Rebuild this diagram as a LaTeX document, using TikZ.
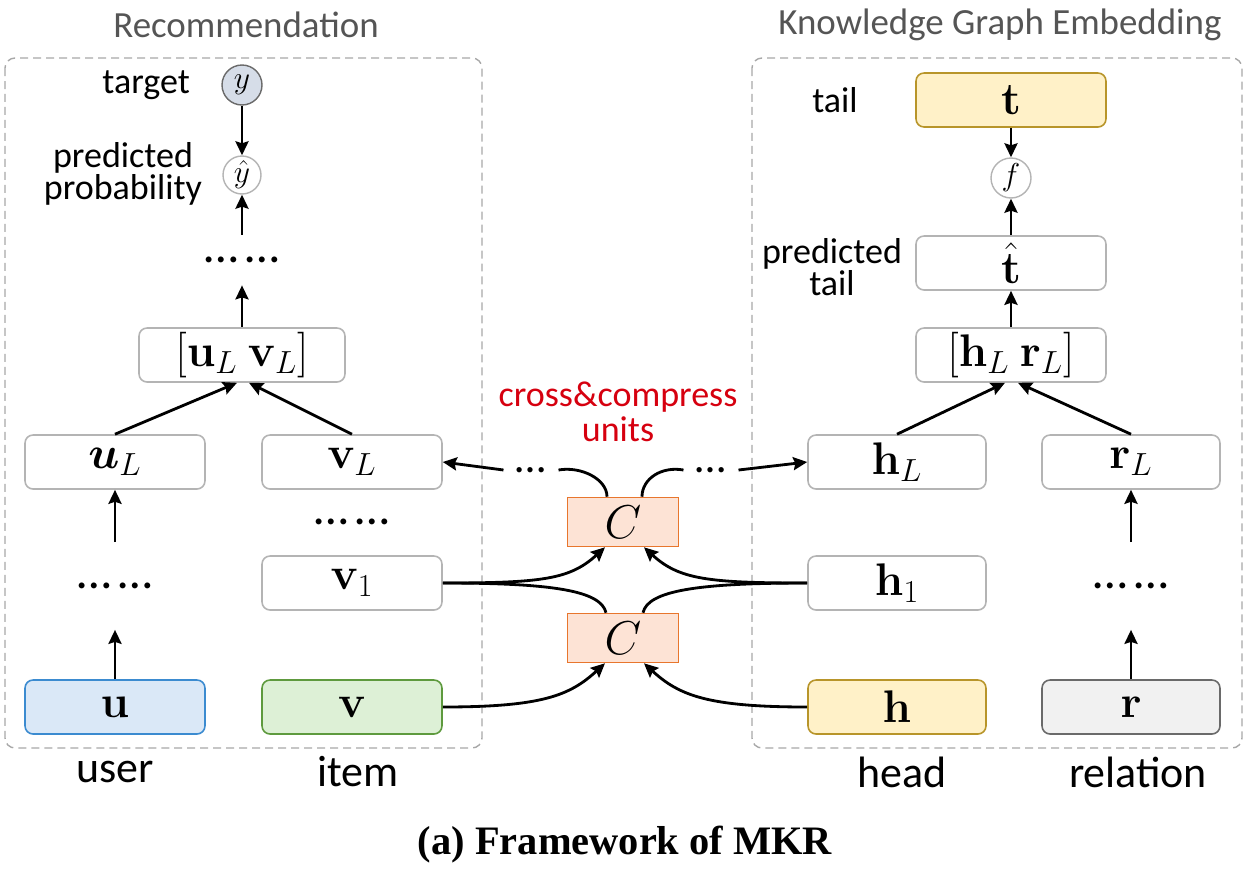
\RequirePackage{fix-cm}
\documentclass[tikz,border=0pt]{standalone}
\usepackage{amsmath}
\usepackage[no-math]{fontspec}
\setmainfont{Carlito}
\newfontfamily\capfont{Liberation Serif}
\usetikzlibrary{arrows.meta, positioning, calc}
\definecolor{inkfaint}{HTML}{B4B4B4}
\definecolor{inkdash}{HTML}{A8A8A8}
\definecolor{inkgrey}{HTML}{555555}
\definecolor{inkred}{HTML}{D6000F}
\definecolor{userfill}{HTML}{DAE8F7}
\definecolor{userline}{HTML}{3B8BD0}
\definecolor{itemfill}{HTML}{DDF0D6}
\definecolor{itemline}{HTML}{5E9A3E}
\definecolor{kgfill}{HTML}{FFF1C8}
\definecolor{kgline}{HTML}{B8952A}
\definecolor{relfill}{HTML}{F1F1F1}
\definecolor{relline}{HTML}{6A6A6A}
\definecolor{ccfill}{HTML}{FDE3D5}
\definecolor{ccline}{HTML}{E8762D}
\definecolor{yfill}{HTML}{D6DDE8}
\newcommand{\lab}{\fontsize{20.5}{17}\selectfont}
\newcommand{\skipdots}{…\kern3.5pt…}

\begin{document}
\begin{tikzpicture}[x=0.02cm, y=-0.02cm, font=\lab,
    box/.style={draw=inkfaint, line width=0.9pt, rounded corners=0.16cm, fill=white,
      minimum width=3.6cm, minimum height=1.08cm, inner sep=0pt,
      font=\fontsize{26}{30}\selectfont},
    unit/.style={draw=ccline, line width=0.9pt, fill=ccfill, minimum width=2.22cm,
      minimum height=0.98cm, inner sep=0pt, font=\fontsize{27}{30}\selectfont},
    dot/.style={circle, draw=relline, line width=0.8pt, minimum size=0.8cm, inner sep=0pt,
      font=\fontsize{18}{20}\selectfont},
    gap/.style={inner sep=0pt, font=\fontsize{28}{30}\selectfont},
    region/.style={draw=inkdash, line width=0.8pt, dash pattern=on 0.16cm off 0.1cm,
      rounded corners=0.2cm},
    arr/.style={-{Stealth[length=0.28cm, width=0.26cm, inset=0.04cm]}, line width=1.6pt},
    link/.style={line width=1.6pt}]
  \useasboundingbox (0,0) rectangle (1248,873);
  \draw[region] (5,58) rectangle (482,748);
  \draw[region] (752,58) rectangle (1242,748);
  \node[text=inkgrey, font=\fontsize{21}{25}\selectfont] (rectitle) at (246,25) {Recommendation};
  \node[text=inkgrey, font=\fontsize{21}{25}\selectfont] (kgetitle) at (1000,25) {Knowledge Graph Embedding};

  \node[dot, fill=yfill] (y) at (242,85) {$y$};
  \node[dot, draw=inkfaint, fill=white, minimum size=0.76cm] (yhat) at (242,175) {$\hat{y}$};
  \node[gap, minimum height=1cm] (updots) at (242,260) {\skipdots};
  \node[box, minimum width=4.12cm] (uvL) at (242,355) {$[\mathbf{u}_L\ \mathbf{v}_L]$};
  \node[box] (uL) at (115,462) {$\boldsymbol{u}_L$};
  \node[box] (vL) at (352,462) {$\mathbf{v}_L$};
  \node[gap] (vdots) at (352,522) {\skipdots};
  \node[gap, minimum height=1.74cm] (udots) at (115,586) {\skipdots};
  \node[box] (v1) at (352,583) {$\mathbf{v}_1$};
  \node[box, draw=userline, fill=userfill] (u) at (115,707) {$\mathbf{u}$};
  \node[box, draw=itemline, fill=itemfill] (v) at (352,707) {$\mathbf{v}$};
  \node[anchor=east] (target) at (196,85) {target};
  \node[align=center] (prob) at (123,174) {predicted\\probability};

  \node[box, draw=kgline, fill=kgfill, minimum width=3.8cm] (t) at (1011,100) {$\mathbf{t}$};
  \node[dot, draw=inkfaint, fill=white] (f) at (1011,178) {$f$};
  \node[box, minimum width=3.8cm] (that) at (1011,263) {$\hat{\mathbf{t}}$};
  \node[box, minimum width=3.8cm] (hrL) at (1011,355) {$[\mathbf{h}_L\ \mathbf{r}_L]$};
  \node[box, minimum width=3.56cm] (hL) at (897,462) {$\mathbf{h}_L$};
  \node[box, minimum width=3.56cm] (rL) at (1131,462) {$\mathbf{r}_L$};
  \node[box, minimum width=3.56cm] (h1) at (897,583) {$\mathbf{h}_1$};
  \node[gap, minimum height=1.74cm] (rdots) at (1131,586) {\skipdots};
  \node[box, minimum width=3.56cm, draw=kgline, fill=kgfill] (h) at (897,707) {$\mathbf{h}$};
  \node[box, minimum width=3.56cm, draw=relline, fill=relfill] (r) at (1131,707) {$\mathbf{r}$};
  \node (tail) at (835,100) {tail};
  \node[align=center, font=\fontsize{20.5}{18.5}\selectfont] (ptail) at (832,267) {predicted\\tail};

  \node[unit] (cu) at (623,522) {$C$};
  \node[unit] (cl) at (623,638) {$C$};
  \node[align=center, text=inkred, font=\fontsize{20.5}{20}\selectfont] (cclabel) at (618,412) {cross\&compress\\units};
  \node[gap, inner xsep=0.24cm, font=\fontsize{25}{27}\selectfont] (ldots) at (531,470) {…};
  \node[gap, inner xsep=0.24cm, font=\fontsize{25}{27}\selectfont] (rdots2) at (711,470) {…};

  \foreach \word/\xx in {user/115, item/358, head/902, relation/1138}{%
    \node[font=\fontsize{25}{30}\selectfont] at (\xx,772) {\word};}
  \node[font=\capfont\bfseries\fontsize{23}{28}\selectfont] (caption) at (625,845) {(a) Framework of MKR};

  \draw[arr] (y) -- (yhat);
  \draw[arr] (updots.north) -- (yhat);
  \draw[arr] (uvL) -- (updots.south);
  \draw[arr] (uL.north) -- ([xshift=-0.1cm]uvL.south);
  \draw[arr] (vL.north) -- ([xshift=0.14cm]uvL.south);
  \draw[arr] (udots.north) -- (uL);
  \draw[arr] (u) -- (udots.south);
  \draw[arr] (t) -- (f);
  \draw[arr] (that) -- (f);
  \draw[arr] (hrL) -- (that);
  \draw[arr] (hL.north) -- ([xshift=-0.12cm]hrL.south);
  \draw[arr] (rL.north) -- ([xshift=0.14cm]hrL.south);
  \draw[arr] (rdots.north) -- (rL);
  \draw[arr] (r) -- (rdots.south);

  \draw[arr] (v1.east) .. controls +(100,0) and +(-35,32) .. ([xshift=-0.36cm]cu.south);
  \draw[arr] (h1.west) .. controls +(-100,0) and +(35,32) .. ([xshift=0.42cm]cu.south);
  \draw[link] (v1.east) .. controls +(110,0) and +(-5,-22) .. ([xshift=-0.34cm]cl.north);
  \draw[link] (h1.west) .. controls +(-110,0) and +(5,-22) .. ([xshift=0.4cm]cl.north);
  \draw[arr] (v.east) .. controls +(100,0) and +(-35,32) .. ([xshift=-0.36cm]cl.south);
  \draw[arr] (h.west) .. controls +(-100,0) and +(35,32) .. ([xshift=0.42cm]cl.south);
  \draw[link] ([xshift=-0.32cm]cu.north) .. controls +(0,-18) and +(22,-4) .. (ldots.east);
  \draw[arr] (ldots.west) -- (vL.east);
  \draw[link] ([xshift=0.38cm]cu.north) .. controls +(0,-18) and +(-22,-4) .. (rdots2.west);
  \draw[arr] (rdots2.east) -- (hL.west);
\end{tikzpicture}
\end{document}
